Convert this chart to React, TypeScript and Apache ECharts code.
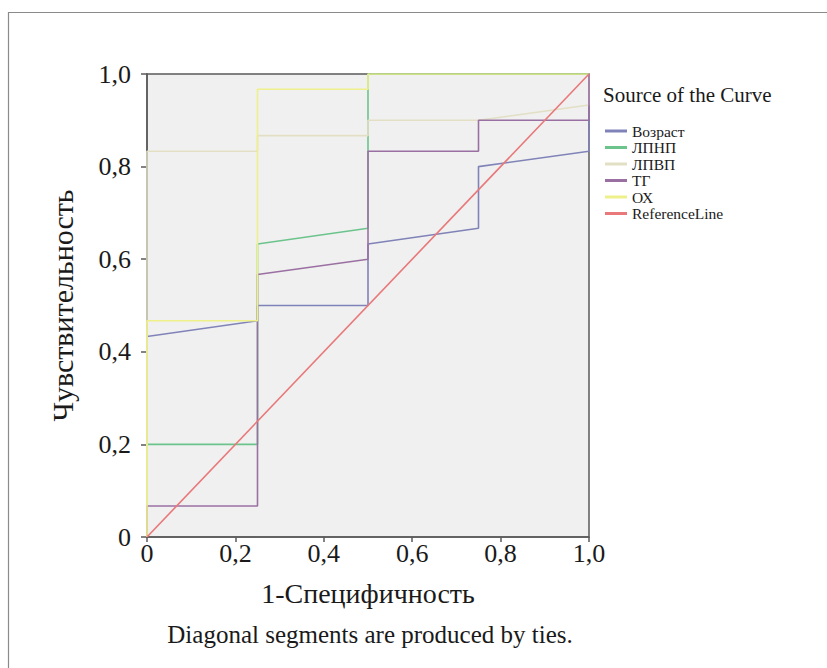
import React, { useEffect, useRef } from "react";
import * as echarts from "echarts";

const seriesNames = ["Возраст", "ЛПНП", "ЛПВП", "ТГ", "ОХ", "ReferenceLine"];
const seriesColors = ["#8083b8", "#6cc48c", "#e2dfc4", "#9a70a2", "#eef08a", "#e8787a"];

const vozrast: [number, number][] = [
  [0, 0], [0, 0.433], [0.25, 0.467], [0.25, 0.5], [0.5, 0.5], [0.5, 0.633],
  [0.75, 0.667], [0.75, 0.8], [1, 0.833], [1, 1],
];
const lpnp: [number, number][] = [
  [0, 0], [0, 0.2], [0.25, 0.2], [0.25, 0.633], [0.5, 0.667], [0.5, 1], [1, 1],
];
const lpvp: [number, number][] = [
  [0, 0], [0, 0.833], [0.25, 0.833], [0.25, 0.867], [0.5, 0.867], [0.5, 0.9],
  [0.75, 0.9], [1, 0.933], [1, 1],
];
const tg: [number, number][] = [
  [0, 0], [0, 0.067], [0.25, 0.067], [0.25, 0.567], [0.5, 0.6], [0.5, 0.833],
  [0.75, 0.833], [0.75, 0.9], [1, 0.9], [1, 1],
];
const ox: [number, number][] = [
  [0, 0], [0, 0.467], [0.25, 0.467], [0.25, 0.967], [0.5, 0.967], [0.5, 1], [1, 1],
];
const referenceLine: [number, number][] = [
  [0, 0], [1, 1],
];

const seriesData = [vozrast, lpnp, lpvp, tg, ox, referenceLine];

const xTitle = "1-Специфичность";
const yTitle = "Чувствительность";
const legendTitle = "Source of the Curve";
const footnote = "Diagonal segments are produced by ties.";

const FONT = "'Liberation Serif', 'Times New Roman', serif";

const fmt = (v: number) => (v === 0 ? "0" : v.toFixed(1).replace(".", ","));

export default function App() {
  const ref = useRef<HTMLDivElement>(null);
  useEffect(() => {
    if (!ref.current) return;
    const chart = echarts.init(ref.current, undefined, { renderer: "svg" });
    chart.setOption({
      animation: false,
      backgroundColor: "#ffffff",
      textStyle: { fontFamily: FONT },
      grid: {
        left: 147,
        top: 74,
        width: 442,
        height: 463,
        show: true,
        backgroundColor: "#f0f0f0",
        borderColor: "#5a5a5a",
        borderWidth: 1.5,
      },
      xAxis: {
        type: "value",
        min: 0,
        max: 1,
        interval: 0.2,
        name: xTitle,
        nameLocation: "middle",
        nameGap: 42,
        nameTextStyle: { fontFamily: FONT, fontSize: 28, color: "#1a1a1a" },
        axisLine: { show: true, onZero: false, lineStyle: { color: "#5a5a5a", width: 1.5 } },
        axisTick: { show: true, length: 5, lineStyle: { color: "#5a5a5a", width: 1.5 } },
        axisLabel: { formatter: fmt, fontFamily: FONT, fontSize: 26, color: "#1a1a1a", margin: 3 },
        splitLine: { show: false },
      },
      yAxis: {
        type: "value",
        min: 0,
        max: 1,
        interval: 0.2,
        name: yTitle,
        nameLocation: "middle",
        nameGap: 70,
        nameTextStyle: { fontFamily: FONT, fontSize: 30, color: "#1a1a1a" },
        axisLine: { show: true, onZero: false, lineStyle: { color: "#5a5a5a", width: 1.5 } },
        axisTick: { show: true, length: 6, lineStyle: { color: "#5a5a5a", width: 1.5 } },
        axisLabel: { formatter: fmt, fontFamily: FONT, fontSize: 26, color: "#1a1a1a", margin: 16 },
        splitLine: { show: false },
      },
      legend: {
        orient: "vertical",
        left: 605,
        top: 123,
        padding: 0,
        itemGap: 0.5,
        itemWidth: 22,
        itemHeight: 3,
        icon: "rect",
        textStyle: { fontFamily: FONT, fontSize: 15.5, color: "#1a1a1a", padding: [0, 0, 0, 0] },
        data: seriesNames,
      },
      graphic: [
        {
          type: "rect",
          shape: { x: 8.5, y: 12.5, width: 900, height: 800 },
          style: { fill: "none", stroke: "#8a8a8a", lineWidth: 1.2 },
          silent: true,
        },
        {
          type: "text",
          x: 603,
          y: 95,
          style: {
            text: legendTitle,
            fontFamily: FONT,
            fontSize: 21,
            fill: "#1a1a1a",
            verticalAlign: "middle",
            align: "left",
          },
        },
        {
          type: "text",
          x: 370,
          y: 634,
          style: {
            text: footnote,
            fontFamily: FONT,
            fontSize: 25,
            fill: "#1a1a1a",
            verticalAlign: "middle",
            align: "center",
          },
        },
      ],
      series: seriesNames.map((name, i) => ({
        name,
        type: "line",
        data: seriesData[i],
        showSymbol: false,
        symbol: "none",
        color: seriesColors[i],
        lineStyle: { color: seriesColors[i], width: 1.6 },
        z: 2 + i,
      })),
    });
    return () => chart.dispose();
  }, []);
  return (
    <div
      ref={ref}
      style={{ position: "absolute", left: 0, top: 0, width: 827, height: 668 }}
    />
  );
}
